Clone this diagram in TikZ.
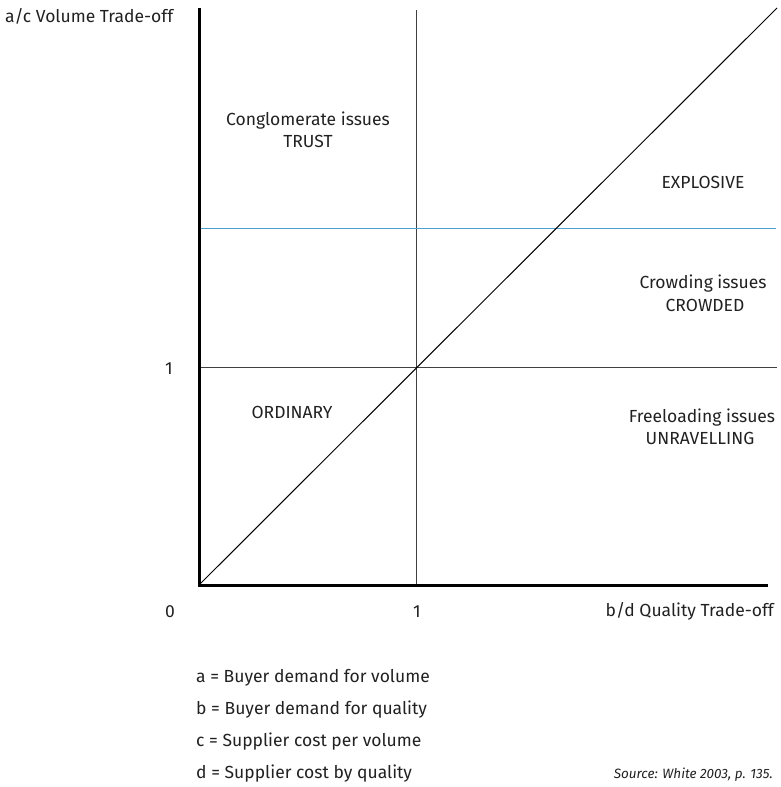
\documentclass[tikz,border=0pt]{standalone}
\usepackage{fontspec}
\setmainfont{Fira Sans}
\begin{document}
\begin{tikzpicture}[x=1pt,y=-1pt,
  lbl/.style={font=\fontsize{17.5}{22}\selectfont, inner sep=0pt, anchor=base, text=black!87},
  axis/.style={line width=3pt, black},
  grid/.style={line width=1pt, black!75},
  diag/.style={line width=1pt, black},
  level/.style={line width=1pt, color={rgb,255:red,75;green,160;blue,210}}]
\useasboundingbox (0,0) rectangle (780,787);
\coordinate (o) at (199,585);
\coordinate (ytop) at (199,8);
\coordinate (xend) at (768,585);
\coordinate (vt) at (416,10);
\coordinate (vb) at (416,585);
\coordinate (hl) at (199,367);
\coordinate (hr) at (777,367);
\coordinate (bl) at (199,228);
\coordinate (br) at (776,228);
\coordinate (dend) at (777,8);
\draw[grid] (vt) -- (vb);
\draw[grid] (hl) -- (hr);
\draw[level] (bl) -- (br);
\draw[diag] (o) -- (dend);
\draw[axis] (ytop) -- (o) -- (xend);
\node[lbl, anchor=base west] (ylab) at (5,23) {a/c Volume Trade-off};
\node[lbl] (cong) at (308,125) {Conglomerate issues};
\node[lbl] (trust) at (308,147) {TRUST};
\node[lbl] (expl) at (703,188) {EXPLOSIVE};
\node[lbl] (crowd) at (703,288) {Crowding issues};
\node[lbl] (crowded) at (705,311) {CROWDED};
\node[lbl] (oney) at (169,374) {1};
\node[lbl] (ord) at (292,418) {ORDINARY};
\node[lbl] (free) at (702,422) {Freeloading issues};
\node[lbl] (unrav) at (700,444) {UNRAVELLING};
\node[lbl] (zero) at (170,617) {0};
\node[lbl] (onex) at (417,617) {1};
\node[lbl, anchor=base east] (xlab) at (774,616) {b/d Quality Trade-off};
\node[lbl, anchor=base west] (la) at (196,682) {a = Buyer demand for volume};
\node[lbl, anchor=base west] (lb) at (196,714) {b = Buyer demand for quality};
\node[lbl, anchor=base west] (lc) at (196,746) {c = Supplier cost per volume};
\node[lbl, anchor=base west] (ld) at (196,778) {d = Supplier cost by quality};
\node[lbl, anchor=base east, font=\fontsize{13.5}{16}\selectfont\itshape] (src) at (773,778) {Source: White 2003, p. 135.};
\end{tikzpicture}
\end{document}
